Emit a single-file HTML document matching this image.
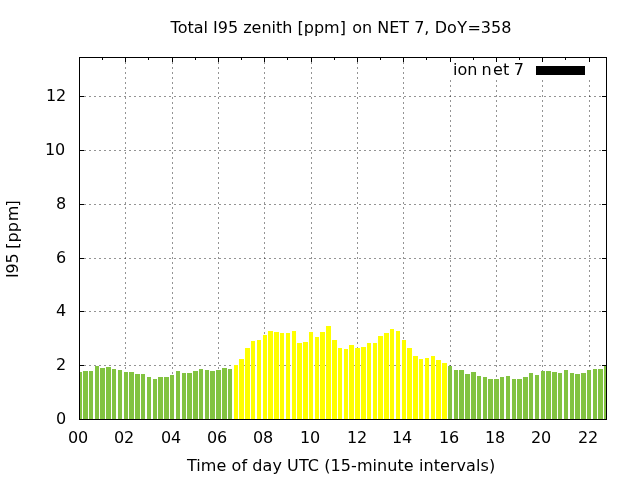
<!DOCTYPE html>
<html><head><meta charset="utf-8"><title>Total I95 zenith</title>
<style>html,body{margin:0;padding:0;background:#fff;}svg{display:block;}text{font-family:"DejaVu Sans", "Liberation Sans", sans-serif;font-size:16px;fill:#000;}</style>
</head><body>
<svg width="640" height="480" viewBox="0 0 640 480">
<rect x="0" y="0" width="640" height="480" fill="#fff"/>
<g stroke="#000" stroke-opacity="0.42" stroke-width="1" stroke-dasharray="2 3" shape-rendering="crispEdges" fill="none">
<line x1="79" y1="365.5" x2="606" y2="365.5"/>
<line x1="79" y1="311.5" x2="606" y2="311.5"/>
<line x1="79" y1="258.5" x2="606" y2="258.5"/>
<line x1="79" y1="204.5" x2="606" y2="204.5"/>
<line x1="79" y1="150.5" x2="606" y2="150.5"/>
<line x1="79" y1="96.5" x2="606" y2="96.5"/>
<line x1="125.5" y1="57" x2="125.5" y2="419"/>
<line x1="172.5" y1="57" x2="172.5" y2="419"/>
<line x1="218.5" y1="57" x2="218.5" y2="419"/>
<line x1="264.5" y1="57" x2="264.5" y2="419"/>
<line x1="311.5" y1="57" x2="311.5" y2="419"/>
<line x1="357.5" y1="57" x2="357.5" y2="419"/>
<line x1="403.5" y1="57" x2="403.5" y2="419"/>
<line x1="450.5" y1="80" x2="450.5" y2="419"/>
<line x1="496.5" y1="80" x2="496.5" y2="419"/>
<line x1="542.5" y1="80" x2="542.5" y2="419"/>
<line x1="589.5" y1="80" x2="589.5" y2="419"/>
</g>
<g stroke="#000" stroke-width="1" shape-rendering="crispEdges" fill="none">
<line x1="79" y1="419.5" x2="84" y2="419.5"/>
<line x1="602" y1="419.5" x2="606" y2="419.5"/>
<line x1="79" y1="365.5" x2="84" y2="365.5"/>
<line x1="602" y1="365.5" x2="606" y2="365.5"/>
<line x1="79" y1="311.5" x2="84" y2="311.5"/>
<line x1="602" y1="311.5" x2="606" y2="311.5"/>
<line x1="79" y1="258.5" x2="84" y2="258.5"/>
<line x1="602" y1="258.5" x2="606" y2="258.5"/>
<line x1="79" y1="204.5" x2="84" y2="204.5"/>
<line x1="602" y1="204.5" x2="606" y2="204.5"/>
<line x1="79" y1="150.5" x2="84" y2="150.5"/>
<line x1="602" y1="150.5" x2="606" y2="150.5"/>
<line x1="79" y1="96.5" x2="84" y2="96.5"/>
<line x1="602" y1="96.5" x2="606" y2="96.5"/>
<line x1="79.5" y1="57" x2="79.5" y2="62"/>
<line x1="79.5" y1="415" x2="79.5" y2="419"/>
<line x1="102.5" y1="57" x2="102.5" y2="60"/>
<line x1="102.5" y1="417" x2="102.5" y2="419"/>
<line x1="125.5" y1="57" x2="125.5" y2="62"/>
<line x1="125.5" y1="415" x2="125.5" y2="419"/>
<line x1="148.5" y1="57" x2="148.5" y2="60"/>
<line x1="148.5" y1="417" x2="148.5" y2="419"/>
<line x1="172.5" y1="57" x2="172.5" y2="62"/>
<line x1="172.5" y1="415" x2="172.5" y2="419"/>
<line x1="195.5" y1="57" x2="195.5" y2="60"/>
<line x1="195.5" y1="417" x2="195.5" y2="419"/>
<line x1="218.5" y1="57" x2="218.5" y2="62"/>
<line x1="218.5" y1="415" x2="218.5" y2="419"/>
<line x1="241.5" y1="57" x2="241.5" y2="60"/>
<line x1="241.5" y1="417" x2="241.5" y2="419"/>
<line x1="264.5" y1="57" x2="264.5" y2="62"/>
<line x1="264.5" y1="415" x2="264.5" y2="419"/>
<line x1="287.5" y1="57" x2="287.5" y2="60"/>
<line x1="287.5" y1="417" x2="287.5" y2="419"/>
<line x1="311.5" y1="57" x2="311.5" y2="62"/>
<line x1="311.5" y1="415" x2="311.5" y2="419"/>
<line x1="334.5" y1="57" x2="334.5" y2="60"/>
<line x1="334.5" y1="417" x2="334.5" y2="419"/>
<line x1="357.5" y1="57" x2="357.5" y2="62"/>
<line x1="357.5" y1="415" x2="357.5" y2="419"/>
<line x1="380.5" y1="57" x2="380.5" y2="60"/>
<line x1="380.5" y1="417" x2="380.5" y2="419"/>
<line x1="403.5" y1="57" x2="403.5" y2="62"/>
<line x1="403.5" y1="415" x2="403.5" y2="419"/>
<line x1="426.5" y1="57" x2="426.5" y2="60"/>
<line x1="426.5" y1="417" x2="426.5" y2="419"/>
<line x1="450.5" y1="57" x2="450.5" y2="62"/>
<line x1="450.5" y1="415" x2="450.5" y2="419"/>
<line x1="473.5" y1="57" x2="473.5" y2="60"/>
<line x1="473.5" y1="417" x2="473.5" y2="419"/>
<line x1="496.5" y1="57" x2="496.5" y2="62"/>
<line x1="496.5" y1="415" x2="496.5" y2="419"/>
<line x1="519.5" y1="57" x2="519.5" y2="60"/>
<line x1="519.5" y1="417" x2="519.5" y2="419"/>
<line x1="542.5" y1="57" x2="542.5" y2="62"/>
<line x1="542.5" y1="415" x2="542.5" y2="419"/>
<line x1="565.5" y1="57" x2="565.5" y2="60"/>
<line x1="565.5" y1="417" x2="565.5" y2="419"/>
<line x1="589.5" y1="57" x2="589.5" y2="62"/>
<line x1="589.5" y1="415" x2="589.5" y2="419"/>
</g>
<g shape-rendering="crispEdges">
<rect x="80" y="372" width="2" height="47" fill="#82c341"/>
<rect x="83" y="371" width="5" height="48" fill="#82c341"/>
<rect x="89" y="371" width="4" height="48" fill="#82c341"/>
<rect x="95" y="366" width="4" height="53" fill="#82c341"/>
<rect x="100" y="368" width="5" height="51" fill="#82c341"/>
<rect x="106" y="367" width="5" height="52" fill="#82c341"/>
<rect x="112" y="369" width="4" height="50" fill="#82c341"/>
<rect x="118" y="370" width="4" height="49" fill="#82c341"/>
<rect x="124" y="372" width="4" height="47" fill="#82c341"/>
<rect x="129" y="372" width="5" height="47" fill="#82c341"/>
<rect x="135" y="374" width="5" height="45" fill="#82c341"/>
<rect x="141" y="374" width="4" height="45" fill="#82c341"/>
<rect x="147" y="377" width="4" height="42" fill="#82c341"/>
<rect x="153" y="379" width="4" height="40" fill="#82c341"/>
<rect x="158" y="377" width="5" height="42" fill="#82c341"/>
<rect x="164" y="377" width="5" height="42" fill="#82c341"/>
<rect x="170" y="375" width="4" height="44" fill="#82c341"/>
<rect x="176" y="371" width="4" height="48" fill="#82c341"/>
<rect x="182" y="373" width="4" height="46" fill="#82c341"/>
<rect x="187" y="373" width="5" height="46" fill="#82c341"/>
<rect x="193" y="371" width="5" height="48" fill="#82c341"/>
<rect x="199" y="369" width="4" height="50" fill="#82c341"/>
<rect x="205" y="370" width="4" height="49" fill="#82c341"/>
<rect x="210" y="371" width="5" height="48" fill="#82c341"/>
<rect x="216" y="370" width="5" height="49" fill="#82c341"/>
<rect x="222" y="368" width="5" height="51" fill="#82c341"/>
<rect x="228" y="369" width="4" height="50" fill="#82c341"/>
<rect x="234" y="365" width="4" height="54" fill="#ffff00"/>
<rect x="239" y="359" width="5" height="60" fill="#ffff00"/>
<rect x="245" y="348" width="5" height="71" fill="#ffff00"/>
<rect x="251" y="341" width="4" height="78" fill="#ffff00"/>
<rect x="257" y="340" width="4" height="79" fill="#ffff00"/>
<rect x="263" y="335" width="4" height="84" fill="#ffff00"/>
<rect x="268" y="331" width="5" height="88" fill="#ffff00"/>
<rect x="274" y="332" width="5" height="87" fill="#ffff00"/>
<rect x="280" y="333" width="4" height="86" fill="#ffff00"/>
<rect x="286" y="333" width="4" height="86" fill="#ffff00"/>
<rect x="292" y="331" width="4" height="88" fill="#ffff00"/>
<rect x="297" y="343" width="5" height="76" fill="#ffff00"/>
<rect x="303" y="342" width="5" height="77" fill="#ffff00"/>
<rect x="309" y="332" width="4" height="87" fill="#ffff00"/>
<rect x="315" y="337" width="4" height="82" fill="#ffff00"/>
<rect x="320" y="332" width="5" height="87" fill="#ffff00"/>
<rect x="326" y="326" width="5" height="93" fill="#ffff00"/>
<rect x="332" y="340" width="5" height="79" fill="#ffff00"/>
<rect x="338" y="348" width="4" height="71" fill="#ffff00"/>
<rect x="344" y="349" width="4" height="70" fill="#ffff00"/>
<rect x="349" y="345" width="5" height="74" fill="#ffff00"/>
<rect x="355" y="348" width="5" height="71" fill="#ffff00"/>
<rect x="361" y="347" width="5" height="72" fill="#ffff00"/>
<rect x="367" y="343" width="4" height="76" fill="#ffff00"/>
<rect x="373" y="343" width="4" height="76" fill="#ffff00"/>
<rect x="378" y="336" width="5" height="83" fill="#ffff00"/>
<rect x="384" y="333" width="5" height="86" fill="#ffff00"/>
<rect x="390" y="329" width="4" height="90" fill="#ffff00"/>
<rect x="396" y="331" width="4" height="88" fill="#ffff00"/>
<rect x="402" y="340" width="4" height="79" fill="#ffff00"/>
<rect x="407" y="348" width="5" height="71" fill="#ffff00"/>
<rect x="413" y="356" width="5" height="63" fill="#ffff00"/>
<rect x="419" y="359" width="4" height="60" fill="#ffff00"/>
<rect x="425" y="358" width="4" height="61" fill="#ffff00"/>
<rect x="431" y="356" width="4" height="63" fill="#ffff00"/>
<rect x="436" y="360" width="5" height="59" fill="#ffff00"/>
<rect x="442" y="363" width="5" height="56" fill="#ffff00"/>
<rect x="448" y="366" width="4" height="53" fill="#82c341"/>
<rect x="454" y="370" width="4" height="49" fill="#82c341"/>
<rect x="459" y="370" width="5" height="49" fill="#82c341"/>
<rect x="465" y="374" width="5" height="45" fill="#82c341"/>
<rect x="471" y="372" width="5" height="47" fill="#82c341"/>
<rect x="477" y="376" width="4" height="43" fill="#82c341"/>
<rect x="483" y="377" width="4" height="42" fill="#82c341"/>
<rect x="488" y="379" width="5" height="40" fill="#82c341"/>
<rect x="494" y="379" width="5" height="40" fill="#82c341"/>
<rect x="500" y="377" width="4" height="42" fill="#82c341"/>
<rect x="506" y="376" width="4" height="43" fill="#82c341"/>
<rect x="512" y="379" width="4" height="40" fill="#82c341"/>
<rect x="517" y="379" width="5" height="40" fill="#82c341"/>
<rect x="523" y="377" width="5" height="42" fill="#82c341"/>
<rect x="529" y="373" width="4" height="46" fill="#82c341"/>
<rect x="535" y="375" width="4" height="44" fill="#82c341"/>
<rect x="541" y="371" width="4" height="48" fill="#82c341"/>
<rect x="546" y="371" width="5" height="48" fill="#82c341"/>
<rect x="552" y="372" width="5" height="47" fill="#82c341"/>
<rect x="558" y="373" width="4" height="46" fill="#82c341"/>
<rect x="564" y="370" width="4" height="49" fill="#82c341"/>
<rect x="570" y="373" width="4" height="46" fill="#82c341"/>
<rect x="575" y="374" width="5" height="45" fill="#82c341"/>
<rect x="581" y="373" width="5" height="46" fill="#82c341"/>
<rect x="587" y="370" width="4" height="49" fill="#82c341"/>
<rect x="593" y="369" width="4" height="50" fill="#82c341"/>
<rect x="598" y="369" width="5" height="50" fill="#82c341"/>
<rect x="604" y="366" width="2" height="53" fill="#82c341"/>
</g>
<rect x="79.5" y="57.5" width="527" height="362" stroke="#000" stroke-width="1" shape-rendering="crispEdges" fill="none"/>
<rect x="536" y="66" width="49" height="9" fill="#000" shape-rendering="crispEdges"/>
<text x="170.6" y="33">Total I95 zenith [ppm]<tspan dx="1.2"> on NET 7, </tspan><tspan dx="0.2">Do</tspan><tspan dx="0.3">Y</tspan><tspan dx="0.5">=358</tspan></text>
<text x="524" y="75" text-anchor="end">ion <tspan dx="-0.9">n</tspan><tspan dx="1.4">e</tspan>t<tspan dx="-0.5"> 7</tspan></text>
<text x="66.3" y="424" text-anchor="end">0</text>
<text x="66.3" y="370" text-anchor="end">2</text>
<text x="66.3" y="316" text-anchor="end">4</text>
<text x="66.3" y="263" text-anchor="end">6</text>
<text x="66.3" y="209" text-anchor="end">8</text>
<text x="65.3" y="155" text-anchor="end">10</text>
<text x="66.3" y="101" text-anchor="end">12</text>
<text x="78.1" y="443" text-anchor="middle">00</text>
<text x="124.1" y="443" text-anchor="middle">02</text>
<text x="171.1" y="443" text-anchor="middle">04</text>
<text x="217.1" y="443" text-anchor="middle">06</text>
<text x="263.1" y="443" text-anchor="middle">08</text>
<text x="310.1" y="443" text-anchor="middle">10</text>
<text x="357.1" y="443" text-anchor="middle">12</text>
<text x="402.1" y="443" text-anchor="middle">14</text>
<text x="449.1" y="443" text-anchor="middle">16</text>
<text x="495.1" y="443" text-anchor="middle">18</text>
<text x="541.1" y="443" text-anchor="middle">20</text>
<text x="588.1" y="443" text-anchor="middle">22</text>
<text x="186.97" y="471" textLength="308.2" lengthAdjust="spacing">Time of day UTC (15-minute intervals)</text>
<text transform="translate(18.1,278.1) rotate(-90)">I<tspan dx="-0.2">9</tspan><tspan dx="-0.2">5</tspan><tspan dx="-0.2"> </tspan><tspan dx="-0.2">[pp</tspan><tspan dx="0.8">m</tspan><tspan dx="-0.8">]</tspan></text>
</svg></body></html>
